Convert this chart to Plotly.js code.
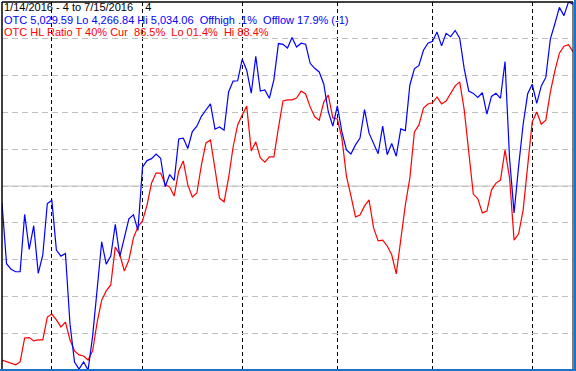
<!DOCTYPE html>
<html><head><meta charset="utf-8">
<script src="https://cdn.plot.ly/plotly-3.0.1.min.js"></script>
<style>
html,body{margin:0;padding:0;background:#fff;overflow:hidden;}
#wrap{position:relative;width:576px;height:371px;}
#chart{position:absolute;left:0;top:0;width:576px;height:371px;}
#rb{position:absolute;left:574px;top:0;width:2px;height:371px;background:#1a73c9;}
#bb{position:absolute;left:0;top:369px;width:576px;height:2px;background:#1a73c9;}
</style></head>
<body><div id="wrap"><div id="chart"></div><div id="rb"></div><div id="bb"></div></div>
<script>
// trading dates (categories)
const dates = ["1/14","1/15","1/19","1/20","1/21","1/22","1/25","1/26","1/27","1/28","1/29",
"2/1","2/2","2/3","2/4","2/5","2/8","2/9","2/10","2/11","2/12","2/16","2/17","2/18","2/19","2/22","2/23","2/24","2/25","2/26","2/29",
"3/1","3/2","3/3","3/4","3/7","3/8","3/9","3/10","3/11","3/14","3/15","3/16","3/17","3/18","3/21","3/22","3/23","3/24","3/28","3/29","3/30","3/31",
"4/1","4/4","4/5","4/6","4/7","4/8","4/11","4/12","4/13","4/14","4/15","4/18","4/19","4/20","4/21","4/22","4/25","4/26","4/27","4/28","4/29",
"5/2","5/3","5/4","5/5","5/6","5/9","5/10","5/11","5/12","5/13","5/16","5/17","5/18","5/19","5/20","5/23","5/24","5/25","5/26","5/27","5/31",
"6/1","6/2","6/3","6/6","6/7","6/8","6/9","6/10","6/13","6/14","6/15","6/16","6/17","6/20","6/21","6/22","6/23","6/24","6/27","6/28","6/29","6/30",
"7/1","7/5","7/6","7/7","7/8","7/11","7/12","7/13","7/14","7/15"];

// OTC composite closes
const otc = [4615.00,4488.42,4476.95,4471.69,4472.06,4591.18,4518.49,4567.67,4468.17,4506.68,4613.95,
4620.37,4516.95,4504.24,4509.56,4363.14,4283.59,4268.76,4283.75,4266.84,4337.51,4435.96,4534.06,4487.54,4504.43,4570.61,4503.58,4542.61,4582.20,4590.47,4557.95,
4689.60,4703.42,4707.42,4717.02,4708.25,4648.82,4674.38,4662.16,4748.47,4750.28,4728.67,4763.97,4774.99,4795.65,4808.87,4821.66,4768.86,4773.50,4766.79,4846.62,4869.29,4869.85,
4914.54,4891.80,4843.93,4920.72,4848.37,4850.69,4833.40,4872.09,4947.42,4945.89,4938.22,4960.02,4940.33,4948.13,4945.89,4906.23,4895.79,4888.28,4863.14,4805.29,4775.36,
4817.59,4763.22,4725.64,4717.09,4736.16,4750.21,4809.88,4760.69,4737.33,4717.68,4775.46,4715.73,4739.12,4712.53,4769.56,4765.78,4861.06,4894.89,4901.77,4933.51,4948.05,
4952.25,4971.36,4942.52,4968.71,4961.75,4974.64,4958.62,4894.55,4848.44,4843.55,4834.93,4844.92,4800.34,4837.21,4843.76,4833.32,4910.04,4707.98,4594.44,4691.87,4779.25,4842.67,
4862.57,4822.90,4859.16,4876.81,4956.76,4988.64,5022.82,5005.73,5034.06,5029.59];

// OTC HL ratio (%)
const hlRatio = [2.7,2.3,1.9,1.4,2.2,8.7,8.8,7.9,8.2,8.2,
14.4,15.2,13.6,11.7,13.0,8.2,5.2,4.1,3.8,2.7,
5.2,13.0,19.0,21.5,23.1,33.4,31.3,26.9,29.9,35.9,
38.9,40.5,44.8,50.8,53.5,53.5,50.5,49.7,47.3,54.1,
56.8,50.3,47.0,48.1,55.7,61.7,62.5,54.3,46.7,45.7,
52.2,60.6,66.6,69.3,71.7,59.5,62.0,57.6,56.5,57.9,
57.9,65.8,73.1,73.4,73.4,73.9,75.8,75.0,71.5,68.8,
67.9,72.8,74.7,68.5,68.2,63.0,52.7,47.3,41.6,42.1,
44.6,46.2,38.6,35.1,35.3,33.7,31.3,26.1,35.3,44.8,
52.2,64.7,66.6,71.2,72.3,72.6,74.2,72.3,73.1,75.3,
77.2,78.3,70.7,59.2,47.8,46.5,42.7,43.2,48.9,50.8,
51.6,59.8,52.2,35.3,37.0,43.5,55.2,67.4,70.1,66.8,
67.9,75.5,81.3,86.1,88.0,88.4,86.5];

const headerLines = [
  {text: "1/14/2016 - 4 to 7/15/2016\u00a0\u00a0\u00a0 4", color: "#000000"},
  {text: "OTC 5,029.59 Lo 4,266.84 Hi 5,034.06\u00a0 Offhigh .1%\u00a0 Offlow 17.9% (-1)", color: "#0000ff"},
  {text: "OTC HL Ratio T 40% Cur\u00a0 86.5%\u00a0 Lo 01.4%\u00a0 Hi 88.4%", color: "#ff0000"}
];

const idx = dates.map((d, i) => i);
const monthStarts = [];
for (let i = 1; i < dates.length; i++) {
  if (dates[i].split("/")[0] !== dates[i-1].split("/")[0]) monthStarts.push(i);
}
const lo = Math.min(...otc), hi = Math.max(...otc);

const W = 576, H = 371;
const M = {l: 2, r: 3, t: 2, b: 1};
const pw = W - M.l - M.r, ph = H - M.t - M.b;
const pxX = px => (px - M.l) / pw;
const pxY = py => 1 - (py - M.t) / ph;

const traces = [
  {x: idx, y: hlRatio, type: "scatter", mode: "lines", line: {color: "#ff0000", width: 1.2}, yaxis: "y", hoverinfo: "skip"},
  {x: idx, y: otc, type: "scatter", mode: "lines", line: {color: "#0000ff", width: 1.2}, yaxis: "y2", hoverinfo: "skip"}
];

const annotations = headerLines.map((l, k) => ({
  xref: "paper", yref: "paper", x: pxX(3), y: pxY(0 + k * 12.5),
  xanchor: "left", yanchor: "top", showarrow: false, align: "left",
  text: l.text, borderpad: 0,
  font: {family: "Liberation Sans, Arial, sans-serif", size: 11, color: l.color}
}));

const layout = {
  width: W, height: H,
  margin: {l: M.l, r: M.r, t: M.t, b: M.b, pad: 0},
  paper_bgcolor: "#ffffff", plot_bgcolor: "#ffffff",
  showlegend: false,
  xaxis: {range: [0, dates.length - 1], tickvals: monthStarts, showticklabels: false, ticks: "",
          showgrid: true, gridcolor: "#000000", gridwidth: 1, griddash: "4px,3px",
          zeroline: false, showline: false, fixedrange: true},
  yaxis: {range: [0, 100], tick0: 0, dtick: 10, showticklabels: false, ticks: "",
          showgrid: true, gridcolor: "#c0c0c0", gridwidth: 1, griddash: "6px,4px",
          zeroline: false, showline: false, fixedrange: true},
  yaxis2: {range: [lo, hi], overlaying: "y", side: "right", showgrid: false, showticklabels: false,
           ticks: "", zeroline: false, showline: false, fixedrange: true},
  shapes: [
    {type: "line", xref: "paper", yref: "y", x0: 0, x1: 1, y0: 50, y1: 50, layer: "below",
     line: {color: "#c0c0c0", width: 1}},
    {type: "line", xref: "paper", yref: "paper", x0: 0, x1: 1, y0: 1, y1: 1, line: {color: "#000000", width: 1.5}},
    {type: "line", xref: "paper", yref: "paper", x0: 0, x1: 0, y0: 0, y1: 1, line: {color: "#000000", width: 1.5}},
    {type: "line", xref: "paper", yref: "paper", x0: 1, x1: 1, y0: 0, y1: 1, line: {color: "#000000", width: 1}}
  ],
  annotations: annotations
};

Plotly.newPlot("chart", traces, layout, {staticPlot: true, displayModeBar: false});
</script>
</body></html>
